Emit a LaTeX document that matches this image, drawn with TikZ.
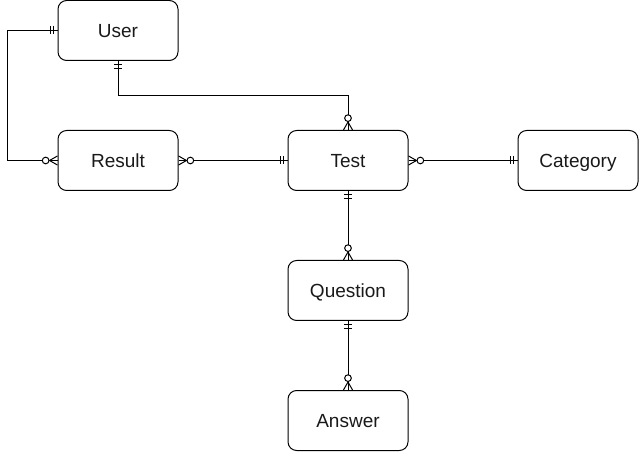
\documentclass[tikz,border=0pt]{standalone}
\usepackage{fontspec}
\setmainfont{Liberation Sans}
\begin{document}
\begin{tikzpicture}[x=0.75pt,y=-0.75pt,
  entity/.style={draw, line width=0.75pt, rounded corners=6.5pt, minimum width=90pt, minimum height=45pt, inner sep=0pt, text height=10.2pt, text depth=0pt, text=black!90, font=\fontsize{14.25pt}{16pt}\selectfont},
  link/.style={line width=0.75pt},
  mone/.pic={\draw[line width=0.75pt] (3pt,-3pt) -- (3pt,3pt) (5.4pt,-3pt) -- (5.4pt,3pt);},
  zmany/.pic={\draw[line width=0.75pt] (0pt,-3.4pt) -- (6pt,0pt) -- (0pt,3.4pt);
              \draw[line width=0.75pt, fill=white] (8.9pt,0pt) circle (2.5pt);}
]
\useasboundingbox (0,0) rectangle (639,452);
\node[entity] (user) at (118,30.5) {User};
\node[entity] (result) at (118,160.5) {Result};
\node[entity] (test) at (348,160.5) {Test};
\node[entity] (cat) at (578,160.5) {Category};
\node[entity] (quest) at (348,290.5) {Question};
\node[entity] (ans) at (348,420.5) {Answer};

\draw[link] (user.west) -- ++(-50,0) |- (result.west);
\draw[link] (user.south) -- ++(0,34.5) -| (test.north);
\draw[link] (result.east) -- (test.west);
\draw[link] (test.east) -- (cat.west);
\draw[link] (test.south) -- (quest.north);
\draw[link] (quest.south) -- (ans.north);

\pic[rotate=180] at (user.west) {mone};
\pic[rotate=180] at (result.west) {zmany};
\pic[rotate=-90] at (user.south) {mone};
\pic[rotate=90] at (test.north) {zmany};
\pic at (result.east) {zmany};
\pic[rotate=180] at (test.west) {mone};
\pic at (test.east) {zmany};
\pic[rotate=180] at (cat.west) {mone};
\pic[rotate=-90] at (test.south) {mone};
\pic[rotate=90] at (quest.north) {zmany};
\pic[rotate=-90] at (quest.south) {mone};
\pic[rotate=90] at (ans.north) {zmany};
\end{tikzpicture}
\end{document}
